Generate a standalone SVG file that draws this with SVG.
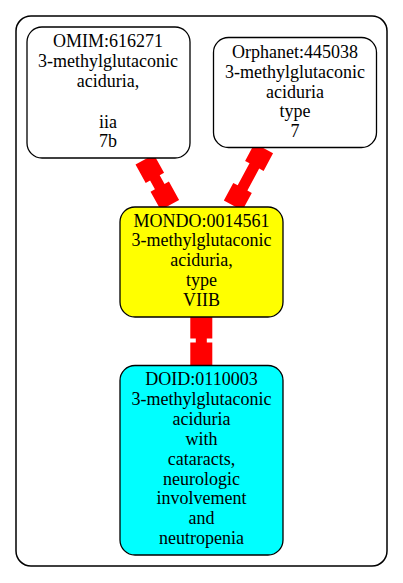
<svg xmlns="http://www.w3.org/2000/svg" width="403" height="583" viewBox="0 0 403 583">
<style>
text{font-family:"Liberation Serif","Times New Roman",serif;font-size:18px;text-anchor:middle;fill:#000}
.node{stroke:#000;stroke-width:1.3}
.edge{fill:#ff0000;stroke:none}
</style>
<defs>
<polygon id="e52" points="0,-10.5 21,-10.5 21,-5.5 31,-5.5 31,-10.5 52,-10.5 52,10.5 31,10.5 31,5.5 21,5.5 21,10.5 0,10.5"/>
</defs>
<rect x="16" y="16" width="371" height="550" rx="15" ry="15" fill="#fff" stroke="#000" stroke-width="1.5"/>
<g id="connectors" class="edge">
<polygon transform="translate(144.7,159.5) rotate(61)" points="0,-10.5 21,-10.5 21,-5.5 31,-5.5 31,-10.5 52,-10.5 52,10.5 31,10.5 31,5.5 21,5.5 21,10.5 0,10.5"/>
<polygon transform="translate(263.8,148.3) rotate(118.2)" points="0,-10.5 20,-10.5 20,-5.5 45,-5.5 45,-10.5 65,-10.5 65,10.5 45,10.5 45,5.5 20,5.5 20,10.5 0,10.5"/>
<polygon points="190.3,317 212.3,317 212.3,338.5 206.8,338.5 206.8,342.5 212.3,342.5 212.3,365 190.3,365 190.3,342.5 195.8,342.5 195.8,338.5 190.3,338.5"/>
</g>
<g id="omim">
<rect class="node" x="27" y="27" width="163" height="131" rx="15" ry="15" fill="#fff"/>
<text x="108" y="47.3">OMIM:616271</text>
<text x="108" y="67.3">3-methylglutaconic</text>
<text x="108" y="87.3">aciduria,</text>
<text x="108" y="127.5">iia</text>
<text x="108" y="147.3">7b</text>
</g>
<g id="orphanet">
<rect class="node" x="213.5" y="37.5" width="163" height="110" rx="15" ry="15" fill="#fff"/>
<text x="295" y="58.3">Orphanet:445038</text>
<text x="295" y="78">3-methylglutaconic</text>
<text x="295" y="97.6">aciduria</text>
<text x="295" y="117.2">type</text>
<text x="295" y="136.8">7</text>
</g>
<g id="mondo">
<rect class="node" x="120" y="207" width="163" height="110" rx="15" ry="15" fill="#ffff00"/>
<text x="201.5" y="226.7">MONDO:0014561</text>
<text x="201.5" y="246.4">3-methylglutaconic</text>
<text x="201.5" y="266.1">aciduria,</text>
<text x="201.5" y="285.8">type</text>
<text x="201.5" y="305.5">VIIB</text>
</g>
<g id="doid">
<rect class="node" x="120" y="365.5" width="163" height="189.5" rx="15" ry="15" fill="#00ffff"/>
<text x="201.5" y="385">DOID:0110003</text>
<text x="201.5" y="404.9">3-methylglutaconic</text>
<text x="201.5" y="424.8">aciduria</text>
<text x="201.5" y="444.7">with</text>
<text x="201.5" y="464.6">cataracts,</text>
<text x="201.5" y="484.5">neurologic</text>
<text x="201.5" y="504.4">involvement</text>
<text x="201.5" y="524.3">and</text>
<text x="201.5" y="544.2">neutropenia</text>
</g>
</svg>
